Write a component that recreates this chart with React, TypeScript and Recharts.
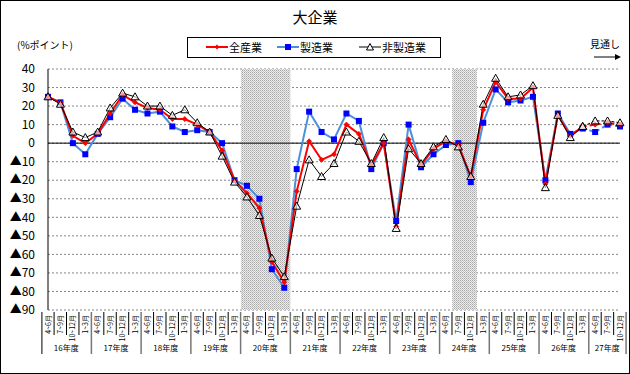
import {
  CartesianGrid,
  Line,
  LineChart,
  ReferenceArea,
  ReferenceLine,
  XAxis,
  YAxis,
} from 'recharts'

const years = ['16年度', '17年度', '18年度', '19年度', '20年度', '21年度', '22年度', '23年度', '24年度', '25年度', '26年度', '27年度']
const quarters = ['4~6月', '7~9月', '10~12月', '1~3月']

// 全産業
const allIndustries = [
  25, 22, 4, 0, 5, 16, 26, 22, 19, 18, 13, 13, 10, 6, -4, -20, -27, -35, -64, -75,
  -26, 1, -9, -6, 10, 5, -12, 0, -45, 2, -12, -3, 1, -1, -18, 18, 33, 24, 24, 30,
  -22, 15, 4, 9, 10, 11, 10,
]
// 製造業
const manufacturing = [
  25, 22, 0, -6, 5, 14, 24, 18, 16, 17, 9, 6, 7, 6, 0, -20, -23, -30, -68, -78,
  -14, 17, 6, 2, 16, 12, -14, 0, -42, 10, -13, -6, -1, 0, -21, 11, 29, 22, 23, 25,
  -20, 16, 5, 8, 6, 10, 9,
]
// 非製造業
const nonManufacturing = [
  25, 21, 6, 3, 6, 19, 27, 25, 20, 20, 15, 18, 11, 6, -7, -21, -29, -39, -62, -72,
  -34, -9, -18, -11, 6, 1, -11, 3, -46, -3, -11, -2, 2, -2, -18, 21, 35, 25, 26, 31,
  -24, 15, 3, 9, 12, 12, 11,
]

// last actual quarter; after this the values are 見通し (forecast)
const lastActual = 43
// shaded periods, as [first, last] category index
const shaded = [[16, 19], [33, 34]]
const yTicks = [40, 30, 20, 10, 0, -10, -20, -30, -40, -50, -60, -70, -80, -90]

const W = 630
const H = 374
const M = { top: 69, right: 10, bottom: 14, left: 8 }
const Y_W = 40
const X_H = 50
const BAND = (W - M.left - M.right - Y_W) / allIndustries.length

const keys = allIndustries.map((_, i) => `${years[Math.floor(i / 4)]}-${quarters[i % 4]}`)

const chartData = keys.map((key, i) => {
  const act = i <= lastActual
  const fc = i >= lastActual
  return {
    key,
    all: act ? allIndustries[i] : null,
    mfg: act ? manufacturing[i] : null,
    non: act ? nonManufacturing[i] : null,
    allF: fc ? allIndustries[i] : null,
    mfgF: fc ? manufacturing[i] : null,
    nonF: fc ? nonManufacturing[i] : null,
  }
})

const RED = '#ff0000'
const BLUE_LINE = '#4a90dc'
const BLUE_MARK = '#0000ff'
const JP = '"Noto Sans CJK JP", "Noto Sans", sans-serif'

function RedDot(props: any) {
  const { cx, cy, index } = props
  if (cx == null || cy == null) return <g key={`r${index}`} />
  return (
    <path
      key={`r${index}`}
      d={`M${cx},${cy - 2.5}L${cx + 2.5},${cy}L${cx},${cy + 2.5}L${cx - 2.5},${cy}Z`}
      fill={RED}
      stroke={RED}
      strokeWidth={0.8}
    />
  )
}

function BlueDot(props: any) {
  const { cx, cy, index } = props
  if (cx == null || cy == null) return <g key={`b${index}`} />
  return <rect key={`b${index}`} x={cx - 3} y={cy - 3} width={6} height={6} fill={BLUE_MARK} />
}

function TriDot(props: any) {
  const { cx, cy, index } = props
  if (cx == null || cy == null) return <g key={`t${index}`} />
  return (
    <path
      key={`t${index}`}
      d={`M${cx},${cy - 4}L${cx + 4},${cy + 3}L${cx - 4},${cy + 3}Z`}
      fill='#fff'
      fillOpacity={0.6}
      stroke='#000'
      strokeWidth={1}
    />
  )
}

// area runs band centre to band centre; widen it to the band edges
function ShadeShape(props: any) {
  const { x, y, width, height } = props
  return (
    <g>
      <defs>
        <pattern id='stipple' width={2} height={2} patternUnits='userSpaceOnUse'>
          <rect width={2} height={2} fill='#ececec' />
          <rect width={1} height={1} fill='#a8a8a8' />
          <rect x={1} y={1} width={1} height={1} fill='#c4c4c4' />
        </pattern>
      </defs>
      <rect x={x - BAND / 2} y={y} width={width + BAND} height={height} fill='url(#stipple)' />
    </g>
  )
}

function QuarterTick(props: any) {
  const { x, y, payload } = props
  const i = payload.index
  const n = keys.length
  const right = x + BAND / 2
  const groupEnd = i % 4 === 3 || i === n - 1
  const groupStart = i - (i % 4)
  const groupLast = Math.min(groupStart + 3, n - 1)
  const showYear = i === groupStart
  const yearX = x - BAND / 2 + ((groupLast - groupStart + 1) * BAND) / 2
  return (
    <g>
      {i === 0 && (
        <line x1={x - BAND / 2} x2={x - BAND / 2} y1={y} y2={y + 42} stroke='#000' />
      )}
      <line
        x1={right}
        x2={right}
        y1={y}
        y2={y + (groupEnd ? 42 : 23)}
        stroke={groupEnd ? '#777' : '#000'}
        strokeWidth={groupEnd ? 1.5 : 1}
      />
      <text
        transform={`translate(${x + 2.5},${y + 3}) rotate(-90)`}
        textAnchor='end'
        fontSize={7}
        fontFamily={JP}
        fill='#000'
      >
        {quarters[i % 4]}
      </text>
      {showYear && (
        <text x={yearX} y={y + 39} textAnchor='middle' fontSize={8} fontFamily={JP} fill='#000'>
          {years[Math.floor(i / 4)]}
        </text>
      )}
    </g>
  )
}

const legendItems = [
  { label: '全産業', color: RED, width: 2, left: 18, marker: <path d='M11,2.5L13.5,5L11,7.5L8.5,5Z' fill={RED} /> },
  { label: '製造業', color: BLUE_LINE, width: 2, left: 89, marker: <rect x={8} y={2} width={6} height={6} fill={BLUE_MARK} /> },
  { label: '非製造業', color: '#000', width: 1, left: 171, marker: <path d='M11,1.5L14.5,8L7.5,8Z' fill='#fff' stroke='#000' /> },
]

function LegendBox() {
  return (
    <div
      style={{
        position: 'absolute',
        top: 37,
        left: 187,
        width: 254,
        height: 21,
        border: '1px solid #000',
        background: '#fff',
        boxSizing: 'border-box',
      }}
    >
      {legendItems.map((it) => (
        <div
          key={it.label}
          style={{ position: 'absolute', left: it.left, top: 1, display: 'flex', alignItems: 'center', whiteSpace: 'nowrap' }}
        >
          <svg width={23} height={10}>
            <line x1={0} x2={22} y1={5} y2={5} stroke={it.color} strokeWidth={it.width} />
            {it.marker}
          </svg>
          <span style={{ fontSize: 11, fontFamily: JP, lineHeight: '16px' }}>{it.label}</span>
        </div>
      ))}
    </div>
  )
}

export default function App() {
  return (
    <div style={{ position: 'absolute', left: 0, top: 0, width: W, height: H, background: '#fff' }}>
      <LineChart width={W} height={H} data={chartData} margin={M}>
        {shaded.map(([a, b]) => (
          <ReferenceArea
            key={a}
            x1={keys[a]}
            x2={keys[b]}
            stroke='none'
            shape={<ShadeShape />}
          />
        ))}
        <CartesianGrid vertical={false} stroke='#888' strokeDasharray='2 2' />
        <XAxis
          dataKey='key'
          interval={0}
          height={X_H}
          tickLine={false}
          axisLine={false}
          tickSize={0}
          tick={<QuarterTick />}
        />
        <YAxis
          width={Y_W}
          domain={[-90, 40]}
          ticks={yTicks}
          interval={0}
          tickLine={false}
          axisLine={{ stroke: '#000' }}
          tickMargin={7}
          tick={{ fontSize: 12, fill: '#000', fontFamily: JP }}
          tickFormatter={(v: number) => (v < 0 ? `▲${-v}` : `${v}`)}
        />
        <YAxis
          yAxisId='frame'
          orientation='right'
          width={0}
          tick={false}
          tickLine={false}
          axisLine={{ stroke: '#999' }}
        />
        <ReferenceLine y={0} stroke='#000' strokeWidth={1} />
        <Line dataKey='mfg' name='製造業' stroke={BLUE_LINE} strokeWidth={2} dot={<BlueDot />} isAnimationActive={false} />
        <Line dataKey='mfgF' stroke={BLUE_LINE} strokeWidth={2} strokeDasharray='4 3' dot={<BlueDot />} isAnimationActive={false} />
        <Line dataKey='all' name='全産業' stroke={RED} strokeWidth={2} dot={<RedDot />} isAnimationActive={false} />
        <Line dataKey='allF' stroke={RED} strokeWidth={2} strokeDasharray='4 3' dot={<RedDot />} isAnimationActive={false} />
        <Line dataKey='non' name='非製造業' stroke='#000' strokeWidth={1} dot={<TriDot />} isAnimationActive={false} />
        <Line dataKey='nonF' stroke='#000' strokeWidth={1} strokeDasharray='3 2' dot={<TriDot />} isAnimationActive={false} />
      </LineChart>
      <LegendBox />
      <div style={{ position: 'absolute', top: 6, left: 0, width: W, textAlign: 'center', fontSize: 15, fontFamily: JP }}>
        大企業
      </div>
      <div style={{ position: 'absolute', top: 37, left: 17, fontSize: 10, fontFamily: JP }}>(%ポイント)</div>
      <div style={{ position: 'absolute', top: 36, left: 590, fontSize: 10, fontFamily: JP }}>見通し</div>
      <svg style={{ position: 'absolute', top: 52, left: 594 }} width={30} height={10}>
        <line x1={0} x2={22} y1={5} y2={5} stroke='#000' />
        <path d='M21,2L27,5L21,8Z' fill='#000' />
      </svg>
      <div
        style={{
          position: 'absolute',
          left: 0,
          top: 0,
          width: W,
          height: H,
          border: '1px solid #000',
          boxSizing: 'border-box',
          pointerEvents: 'none',
        }}
      />
    </div>
  )
}
